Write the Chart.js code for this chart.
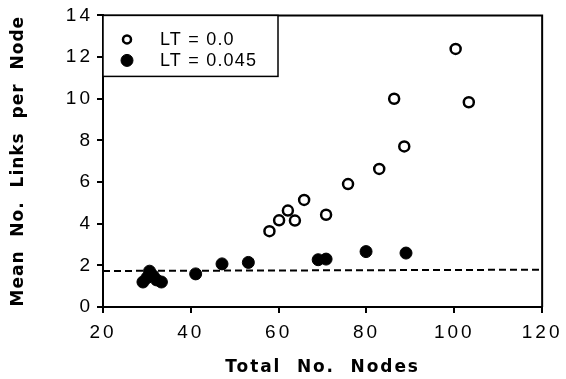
<!DOCTYPE html>
<html>
<head>
<meta charset="utf-8">
<script src="https://cdn.jsdelivr.net/npm/chart.js@4"></script>
<style>
  html, body { margin: 0; padding: 0; background: #fff; }
  #wrap { width: 566px; height: 379px; }
</style>
</head>
<body>
<div id="wrap"><canvas id="myChart" width="566" height="379"></canvas></div>
<script>
'use strict'

// data
const openX = [57.9, 60.1, 62.1, 63.7, 65.8, 70.8, 75.8, 82.9, 86.3, 88.6, 100.3, 103.3];
const openY = [3.64, 4.16, 4.63, 4.15, 5.14, 4.43, 5.9, 6.63, 10.0, 7.71, 12.39, 9.83];

const filledX = [29.1, 30.0, 30.6, 31.4, 32.2, 33.3, 41.1, 47.1, 53.1, 69.0, 70.8, 79.9, 89.0];
const filledY = [1.2, 1.4, 1.72, 1.5, 1.3, 1.2, 1.59, 2.07, 2.14, 2.27, 2.30, 2.66, 2.59];

const lineX = [20, 120];
const lineY = [1.73, 1.79];

const seriesNames = ['LT = 0.0', 'LT = 0.045'];
const xTicks = [20, 40, 60, 80, 100, 120];
const yTicks = [0, 2, 4, 6, 8, 10, 12, 14];

function toPoints(xs, ys) {
    return xs.map((x, i) => ({ x: x, y: ys[i] }));
}

const font = 'Liberation Sans, Arial, Helvetica, sans-serif';
const titleFont = 'DejaVu Sans, Liberation Sans, sans-serif';
const titleSpacing = { x: '1.9px', y: '1.0px' };

// wider letters like the old typeset figure
const spacingPlugin = {
    id: 'spacing',
    beforeDraw(chart) {
        chart.ctx.letterSpacing = '3px';
        ['x', 'y'].forEach(id => {
            const s = chart.scales[id];
            if (s._spaced) return;
            const orig = s.drawTitle;
            s.drawTitle = function () {
                this.ctx.letterSpacing = titleSpacing[id];
                orig.apply(this, arguments);
                this.ctx.letterSpacing = '3px';
            };
            s._spaced = true;
        });
    },
    afterDraw(chart) {
        chart.ctx.letterSpacing = '0px';
    }
};

// frame round the plot and the boxed legend in the top left corner
const framePlugin = {
    id: 'frame',
    afterDraw(chart) {
        const c = chart.ctx;
        const a = chart.chartArea;
        c.save();
        c.strokeStyle = '#000';
        c.lineWidth = 2;
        c.beginPath();
        c.moveTo(a.left, a.top);
        c.lineTo(a.right, a.top);
        c.lineTo(a.right, a.bottom);
        c.stroke();

        // legend
        c.lineWidth = 1.5;
        c.fillStyle = '#fff';
        c.fillRect(a.left, a.top, 175, 61);
        c.strokeRect(a.left, a.top, 175, 61);
        c.letterSpacing = '1.2px';
        c.font = '18px ' + font;
        c.textBaseline = 'middle';
        c.textAlign = 'left';
        seriesNames.forEach((name, i) => {
            const ds = chart.data.datasets[i];
            const cy = a.top + 24 + i * 21;
            const cx = a.left + 24;
            c.beginPath();
            c.arc(cx, cy, i === 0 ? 4 : 6, 0, Math.PI * 2);
            c.fillStyle = ds.pointBackgroundColor;
            c.fill();
            c.lineWidth = i === 0 ? 2.5 : 1;
            c.strokeStyle = ds.pointBorderColor;
            c.stroke();
            c.fillStyle = '#000';
            c.fillText(name, a.left + 57, cy + 1);
        });
        c.restore();
    }
};

const ctx = document.getElementById('myChart').getContext('2d');

const myChart = new Chart(ctx, {
    type: 'scatter',
    data: {
        datasets: [{
            label: seriesNames[0],
            data: toPoints(openX, openY),
            pointRadius: 5,
            pointBorderWidth: 2.5,
            pointBackgroundColor: '#fff',
            pointBorderColor: '#000'
        }, {
            label: seriesNames[1],
            data: toPoints(filledX, filledY),
            pointRadius: 6,
            pointBorderWidth: 1,
            pointBackgroundColor: '#000',
            pointBorderColor: '#000'
        }, {
            label: 'line',
            type: 'line',
            data: toPoints(lineX, lineY),
            borderColor: '#000',
            borderWidth: 2,
            borderDash: [7, 4],
            pointRadius: 0,
            fill: false
        }]
    },
    options: {
        responsive: false,
        animation: false,
        layout: {
            padding: { top: 11, right: 23, left: 7, bottom: 1 }
        },
        plugins: {
            tooltip: { enabled: false },
            legend: { display: false }
        },
        scales: {
            x: {
                type: 'linear',
                min: 20,
                max: 120,
                afterBuildTicks: s => { s.ticks = xTicks.map(v => ({ value: v })); },
                afterFit: s => { s.height = 71; },
                border: { color: '#000', width: 2 },
                grid: { drawOnChartArea: false, color: '#000', tickLength: 6, lineWidth: 2 },
                ticks: { color: '#000', padding: 8, font: { family: font, size: 19 } },
                title: {
                    display: true,
                    text: 'Total  No.  Nodes',
                    color: '#000',
                    padding: { top: 0, bottom: 0 },
                    font: { family: titleFont, size: 17, weight: 'bold' }
                }
            },
            y: {
                type: 'linear',
                min: 0,
                max: 14,
                afterBuildTicks: s => { s.ticks = yTicks.map(v => ({ value: v })); },
                afterFit: s => { s.width = 96; },
                border: { color: '#000', width: 2 },
                grid: { drawOnChartArea: false, color: '#000', tickLength: 6, lineWidth: 2 },
                ticks: { color: '#000', padding: 4, font: { family: font, size: 19 } },
                title: {
                    display: true,
                    text: 'Mean  No.  Links  per  Node',
                    color: '#000',
                    padding: { top: 1, bottom: 0 },
                    font: { family: titleFont, size: 17, weight: 'bold' }
                }
            }
        }
    },
    plugins: [spacingPlugin, framePlugin]
});
</script>
</body>
</html>
